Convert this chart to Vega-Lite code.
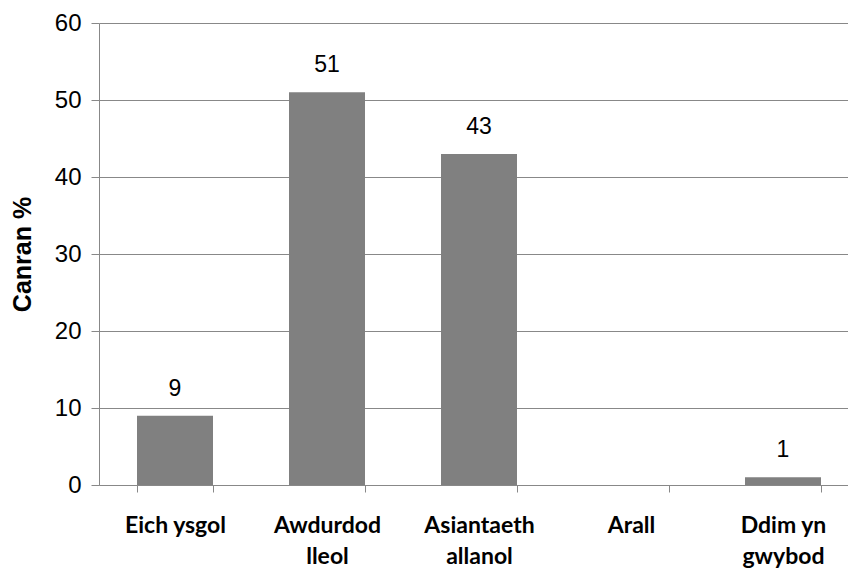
{
  "$schema": "https://vega.github.io/schema/vega-lite/v6.json",
  "width": 760,
  "height": 462,
  "autosize": {"type": "none"},
  "padding": {"left": 99, "top": 23, "right": 0, "bottom": 87},
  "background": "white",
  "config": {"view": {"stroke": null}},
  "data": {
    "values": [
      {"category": "Eich ysgol", "value": 9, "label": "9"},
      {"category": "Awdurdod lleol", "value": 51, "label": "51"},
      {"category": "Asiantaeth allanol", "value": 43, "label": "43"},
      {"category": "Arall", "value": 0, "label": ""},
      {"category": "Ddim yn gwybod", "value": 1, "label": "1"}
    ]
  },
  "encoding": {
    "x": {
      "field": "category",
      "type": "nominal",
      "sort": null,
      "scale": {"paddingInner": 0.5, "paddingOuter": 0.25},
      "axis": {
        "title": null,
        "labelAngle": 0,
        "labelFont": "Lato",
        "labelFontWeight": "bold",
        "labelFontSize": 23,
        "labelColor": "black",
        "labelPadding": 40,
        "labelLineHeight": 31,
        "labelBaseline": "alphabetic",
        "labelExpr": "datum.label == 'Awdurdod lleol' ? ['Awdurdod', 'lleol'] : datum.label == 'Asiantaeth allanol' ? ['Asiantaeth', 'allanol'] : datum.label == 'Ddim yn gwybod' ? ['Ddim yn', 'gwybod'] : datum.label",
        "tickBand": "extent",
        "tickSize": 7,
        "tickColor": "#888888",
        "domainColor": "#888888",
        "grid": false
      }
    }
  },
  "layer": [
    {
      "mark": {"type": "bar", "color": "#808080"},
      "encoding": {
        "y": {
          "field": "value",
          "type": "quantitative",
          "scale": {"domain": [0, 60], "nice": false},
          "axis": {
            "title": "Canran %",
            "titleFont": "Liberation Sans",
            "titleFontSize": 25,
            "titleFontWeight": "bold",
            "titleColor": "black",
            "titlePadding": 19,
            "values": [0, 10, 20, 30, 40, 50, 60],
            "labelFont": "Liberation Sans",
            "labelFontSize": 24,
            "labelColor": "black",
            "labelPadding": 10,
            "tickSize": 8,
            "tickColor": "#888888",
            "domainColor": "#888888",
            "gridColor": "#888888",
            "gridOpacity": 1
          }
        }
      }
    },
    {
      "mark": {"type": "text", "font": "Liberation Sans", "fontSize": 23, "color": "black", "baseline": "alphabetic", "dy": -20},
      "encoding": {
        "y": {"field": "value", "type": "quantitative"},
        "text": {"field": "label"}
      }
    }
  ]
}
